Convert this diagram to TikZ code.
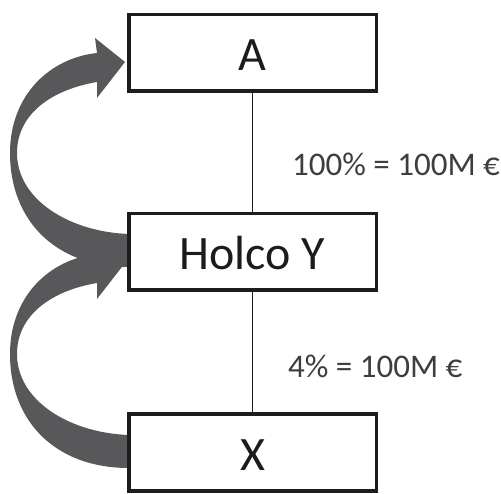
\documentclass[tikz,border=0pt]{standalone}
\usepackage{fontspec}
\setmainfont{Carlito}
\definecolor{arrowgray}{RGB}{88,88,90}
\definecolor{ink}{RGB}{28,28,28}
\begin{document}
\begin{tikzpicture}[x=1pt,y=-1pt,
  entity/.style={draw=ink, fill=white, line width=3.5pt, minimum width=247.5pt,
    minimum height=76.5pt, inner sep=0pt, font=\fontsize{48}{48}\selectfont,
    text height=35pt, text depth=0pt, text=ink},
  share/.style={anchor=base west, font=\fontsize{33}{33}\selectfont, text=ink!85, inner sep=0pt},
  link/.style={draw=ink, line width=1.3pt},
  blockarrow/.style={fill=arrowgray}]
\useasboundingbox (0,0) rectangle (501,494);
\fill[white] (0,0) rectangle (501,494);
% curved block arrows
\foreach \dy in {0,201}{
  \fill[blockarrow, shift={(0,\dy)}] (129,267) .. controls (55,267) and (10,220) .. (10,153)
    .. controls (10,95) and (50,58) .. (97,53)
    -- (95,38) -- (125,62) -- (97,98) -- (97,82)
    .. controls (50,90) and (17,115) .. (17,153)
    .. controls (17,200) and (70,232) .. (129,234) -- cycle;
}
% boxes
\node[entity] (A) at (252.5,53) {A};
\node[entity] (H) at (252.5,252) {Holco Y};
\node[entity] (X) at (252.5,452.5) {X};
% connectors
\draw[link] (A) -- (H);
\draw[link] (H) -- (X);
% labels
\node[share] (l1) at (292,176) {100\% = 100M €};
\node[share] (l2) at (288,378) {4\% = 100M €};
\end{tikzpicture}
\end{document}
